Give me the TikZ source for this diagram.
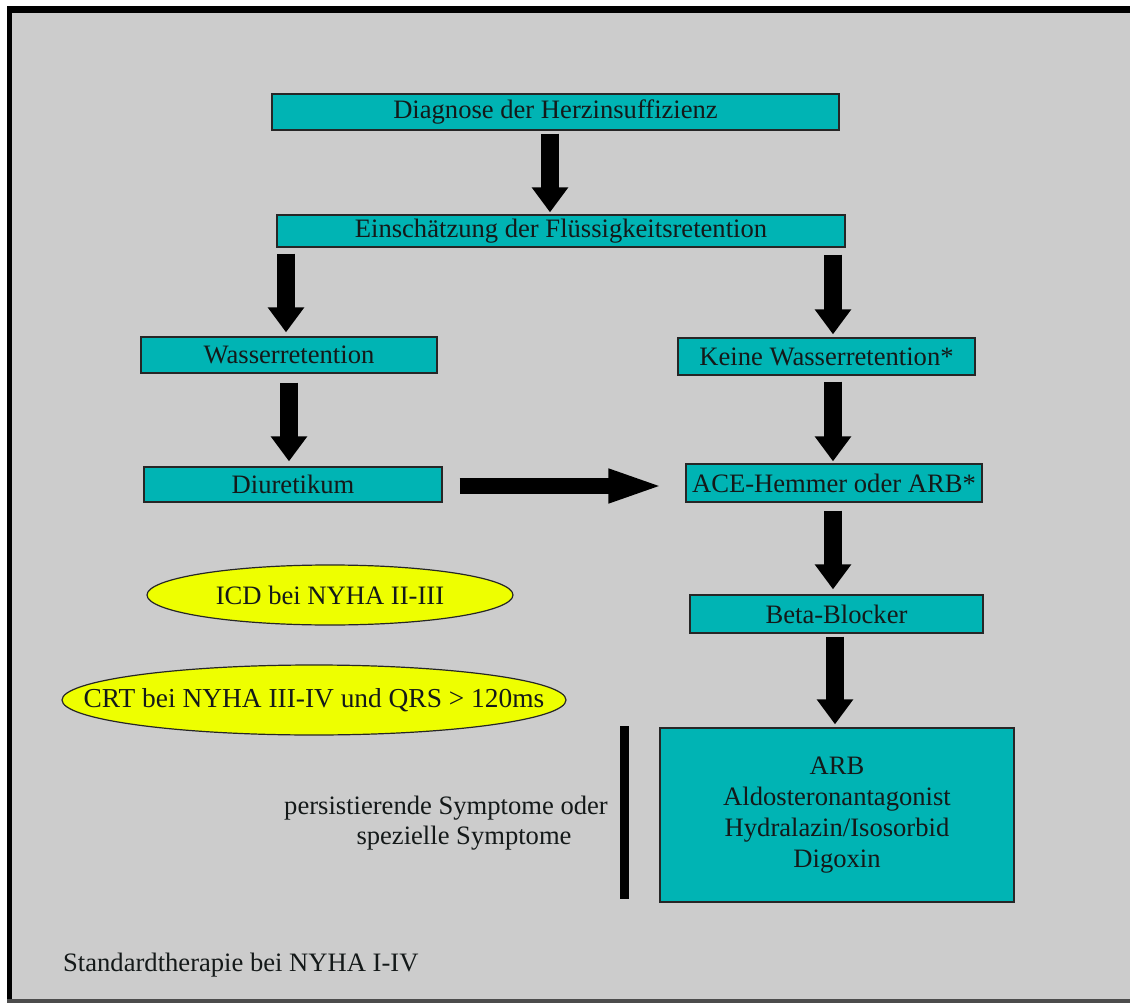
\documentclass[tikz,border=0pt]{standalone}
\usepackage{fontspec}
\setmainfont{Liberation Serif}
\usetikzlibrary{shapes.geometric,arrows.meta}
\definecolor{bggrey}{RGB}{204,204,204}
\definecolor{boxcyan}{RGB}{0,180,180}
\definecolor{ellyellow}{RGB}{238,255,0}
\definecolor{txt}{RGB}{20,25,25}
\tikzset{
  stepbox/.style={draw=black!85, line width=1.3pt, fill=boxcyan, inner sep=0pt,
    text=txt, font=\fontsize{26.6}{32}\selectfont, anchor=center},
  oval/.style={ellipse, draw=black!85, line width=1.2pt, fill=ellyellow, inner ysep=0pt,
    inner xsep=-60pt, text=txt, font=\fontsize{26.6}{32}\selectfont},
  bigarrow/.style={line width=18pt, black, -{Triangle[width=35pt,length=25pt]}},
  harrow/.style={line width=16pt, black, -{Triangle[width=30pt,length=57pt]}},
  plain/.style={text=txt, font=\fontsize{26.6}{30}\selectfont, inner sep=0pt}
}
\begin{document}
\begin{tikzpicture}[x=1pt,y={(0pt,-1pt)}]
\useasboundingbox (0,0) rectangle (1130,1003);
% frame
\fill[white] (0,0) rectangle (1130,1003);
\fill[bggrey] (7,6) rectangle (1130,1003);
\fill[black] (7,6) rectangle (1130,13);
\fill[black] (7,6) rectangle (12,1000);
\fill[black!70] (7,999) rectangle (1130,1003);

% boxes
\node[stepbox, minimum width=567pt, minimum height=36pt] (dia) at (555.5,112) {Diagnose der Herzinsuffizienz};
\node[stepbox, minimum width=568pt, minimum height=32pt] (ein) at (561,231) {Einschätzung der Flüssigkeitsretention};
\node[stepbox, minimum width=296pt, minimum height=36pt] (was) at (289,355) {Wasserretention};
\node[stepbox, minimum width=297pt, minimum height=37pt] (kei) at (826.5,356.5) {Keine Wasserretention*};
\node[stepbox, minimum width=298pt, minimum height=35pt] (diu) at (293,484.5) {Diuretikum};
\node[stepbox, minimum width=296pt, minimum height=38pt] (ace) at (834,483) {ACE-Hemmer oder ARB*};
\node[stepbox, minimum width=293pt, minimum height=38pt] (bet) at (836.5,614) {Beta-Blocker};
\node[stepbox, minimum width=354pt, minimum height=174pt, align=center,
  font=\fontsize{26.6}{31}\selectfont] (big) at (837,815)
  {ARB\\Aldosteronantagonist\\Hydralazin/Isosorbid\\Digoxin};

% ellipses
\node[oval, minimum width=366pt, minimum height=60pt] (icd) at (330,595) {ICD bei NYHA II-III};
\node[oval, minimum width=504pt, minimum height=70pt, font=\fontsize{27.4}{32}\selectfont] (crt) at (314,700) {CRT bei NYHA III-IV und QRS > 120ms};

% side texts
\node[plain, align=center] (pers) at (446,823) {persistierende Symptome oder\\\hspace*{36pt}spezielle Symptome};
\node[plain, anchor=west] (std) at (63,965) {Standardtherapie bei NYHA I-IV};
\fill[black] (619.5,726) rectangle (628.5,899);

% arrow x positions
\coordinate (c1) at (550,0);
\coordinate (c2) at (286,0);
\coordinate (c3) at (833,0);
\coordinate (c4) at (289,0);
\coordinate (c7) at (835,0);

% connectors
\draw[bigarrow, shorten <=3pt, shorten >=2pt] (dia.south -| c1) -- (ein.north -| c1);
\draw[bigarrow, shorten <=6pt, shorten >=4pt] (ein.south -| c2) -- (was.north -| c2);
\draw[bigarrow, shorten <=7pt, shorten >=3pt] (ein.south -| c3) -- (kei.north -| c3);
\draw[bigarrow, shorten <=9pt, shorten >=5pt] (was.south -| c4) -- (diu.north -| c4);
\draw[bigarrow, shorten <=6pt, shorten >=2pt] (kei.south -| c3) -- (ace.north -| c3);
\draw[bigarrow, shorten <=8pt, shorten >=5pt] (ace.south -| c3) -- (bet.north -| c3);
\draw[bigarrow, shorten <=3pt, shorten >=3pt] (bet.south -| c7) -- (big.north -| c7);
\draw[harrow, shorten <=17pt, shorten >=20pt] ([yshift=-1.5pt]diu.east) -- ([yshift=-1.5pt]diu.east -| ace.west);
\end{tikzpicture}
\end{document}
